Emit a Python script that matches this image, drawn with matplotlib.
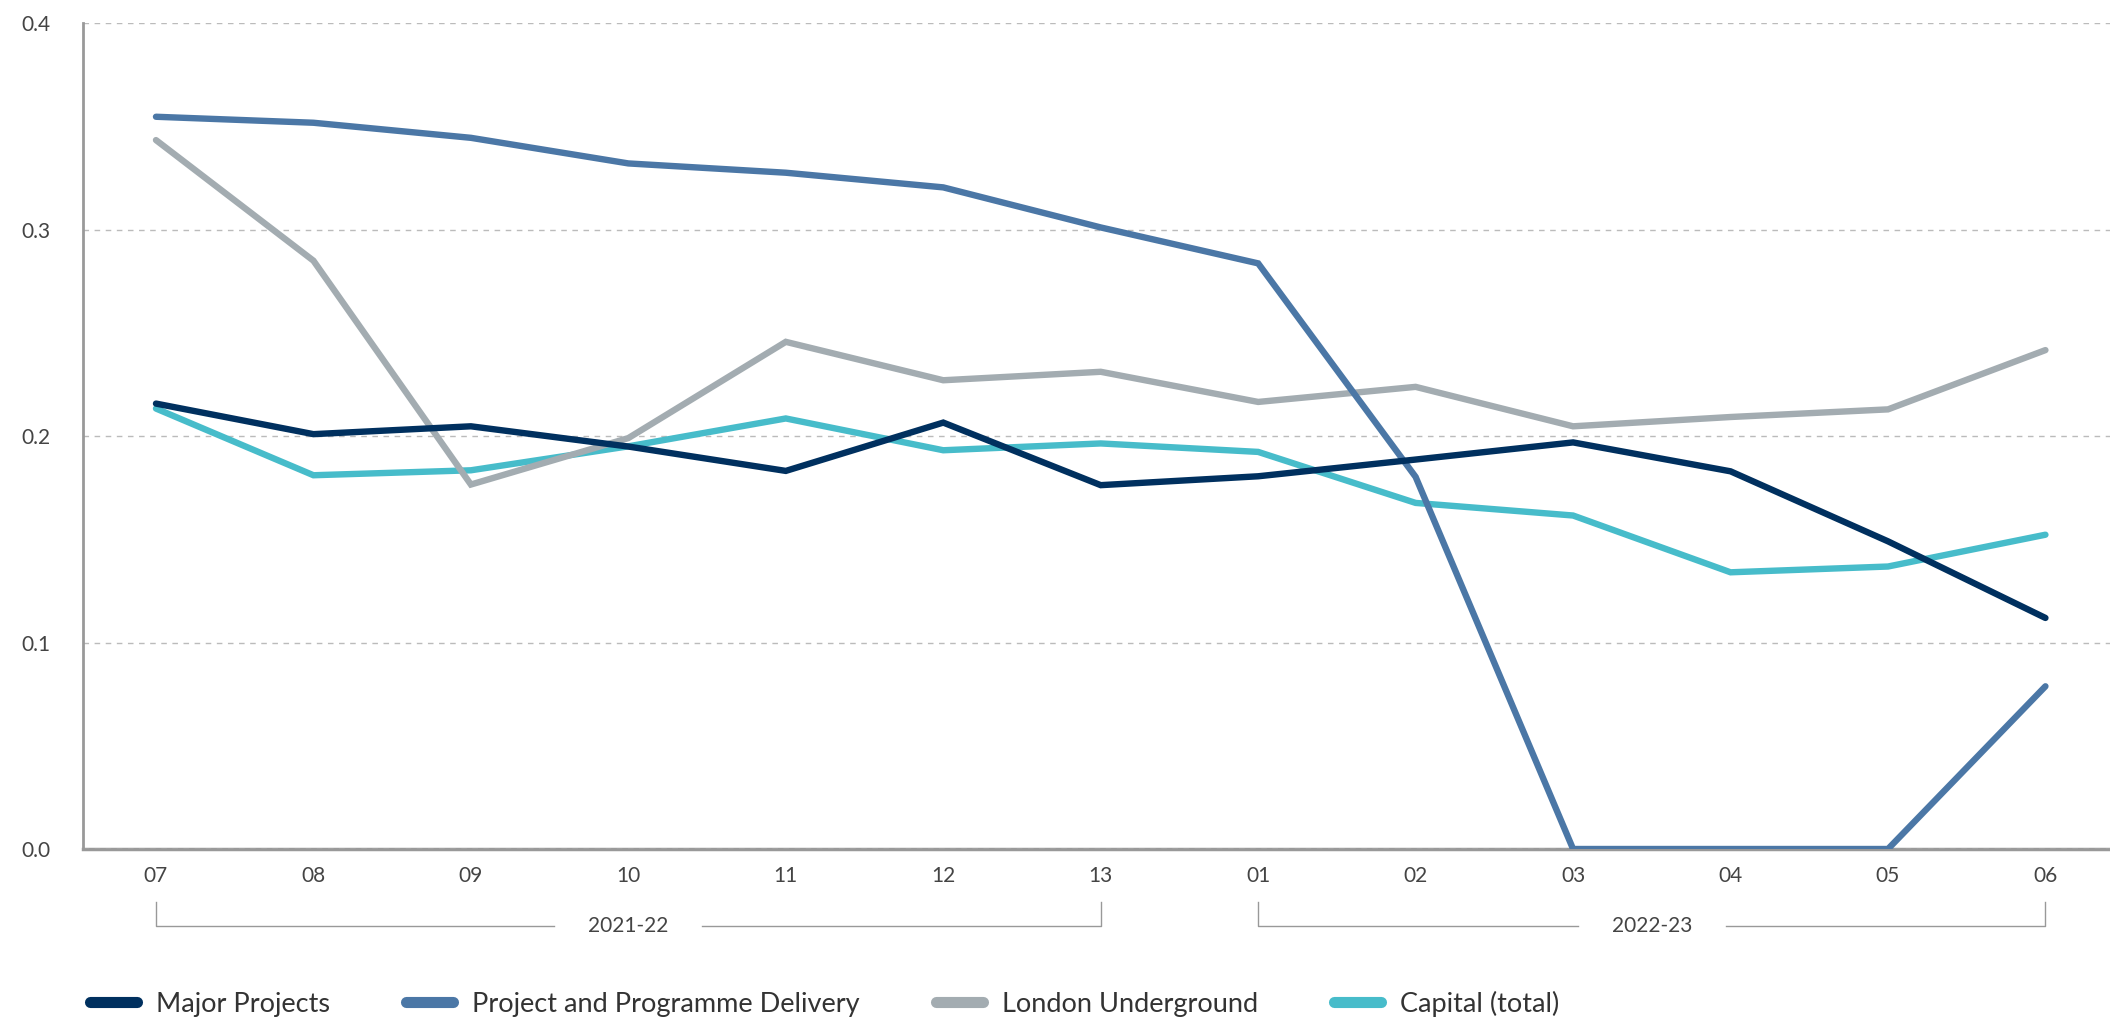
import matplotlib
matplotlib.use("Agg")
import matplotlib.pyplot as plt
import matplotlib.transforms as mtransforms

plt.rcParams['font.family'] = ['Lato', 'DejaVu Sans']

# Periods on the x axis
periods = ['07', '08', '09', '10', '11', '12', '13', '01', '02', '03', '04', '05', '06']

# Financial year groups: (label, first index, last index)
years = [('2021-22', 0, 6), ('2022-23', 7, 12)]

major_projects = [0.2157, 0.2009, 0.2047, 0.1949, 0.1831, 0.2065, 0.1762,
                  0.1805, 0.1886, 0.1969, 0.1829, 0.1490, 0.1119]
ppd = [0.3546, 0.3517, 0.3444, 0.3320, 0.3275, 0.3204, 0.3010,
       0.2836, 0.1802, 0.0, 0.0, 0.0, 0.0788]
london_underground = [0.3433, 0.2849, 0.1765, 0.1990, 0.2456, 0.2270, 0.2311,
                      0.2165, 0.2238, 0.2047, 0.2092, 0.2129, 0.2416]
capital_total = [0.2133, 0.1810, 0.1834, 0.1950, 0.2085, 0.1931, 0.1964,
                 0.1923, 0.1676, 0.1615, 0.1340, 0.1368, 0.1522]

series = [
    ('Major Projects', major_projects, '#00305f'),
    ('Project and Programme Delivery', ppd, '#4b77a6'),
    ('London Underground', london_underground, '#a3acb1'),
    ('Capital (total)', capital_total, '#47bcca'),
]

fig = plt.figure(figsize=(21.1, 10.18), dpi=100)
ax = fig.add_axes([0.0393, 0.166, 0.9607, 0.8114])

x = list(range(len(periods)))
# draw in reverse so the navy line ends up on top
for name, vals, col in reversed(series):
    ax.plot(x, vals, color=col, lw=4.6, solid_capstyle='round',
            solid_joinstyle='miter', label=name)

ax.set_xlim(-0.464, 12.41)
ax.set_ylim(0, 0.4)
ax.set_yticks([0.0, 0.1, 0.2, 0.3, 0.4])
ax.set_yticklabels(['0.0', '0.1', '0.2', '0.3', '0.4'])
ax.set_xticks(x)
ax.set_xticklabels(periods)
ax.tick_params(axis='both', length=0, labelsize=15, labelcolor='#444444')
ax.tick_params(axis='y', pad=23)
ax.tick_params(axis='x', pad=12)

ax.grid(axis='y', ls=(0, (4, 4)), color='#bbbbbb', lw=1)
ax.set_axisbelow(True)
for s in ['top', 'right']:
    ax.spines[s].set_visible(False)
ax.spines['left'].set_color('#999999')
ax.spines['left'].set_linewidth(2)
ax.spines['bottom'].set_color('#999999')
ax.spines['bottom'].set_linewidth(2.5)
ax.spines['bottom'].set_zorder(0.5)

# year brackets below the tick labels
trans = mtransforms.blended_transform_factory(ax.transData, ax.transAxes)
y_top, y_bot = -0.064, -0.093
gap = 0.47
for label, i0, i1 in years:
    mid = (i0 + i1) / 2
    kw = dict(color='#999999', lw=1, transform=trans, clip_on=False)
    ax.plot([i0, i0, mid - gap], [y_top, y_bot, y_bot], **kw)
    ax.plot([mid + gap, i1, i1], [y_bot, y_bot, y_top], **kw)
    ax.text(mid, y_bot, label, transform=trans, ha='center', va='center',
            fontsize=15, color='#444444')

handles, labels = ax.get_legend_handles_labels()
leg = fig.legend(handles[::-1], labels[::-1], loc='center left',
                 bbox_to_anchor=(0.036, 0.014), ncol=4, frameon=False,
                 fontsize=19.5, handlelength=1.75, handletextpad=0.7,
                 columnspacing=2.8, labelcolor='#333333', borderpad=0)
for h in leg.get_lines():
    h.set_linewidth(8)
    h.set_solid_capstyle('round')

fig.savefig('out.png', dpi=100)
